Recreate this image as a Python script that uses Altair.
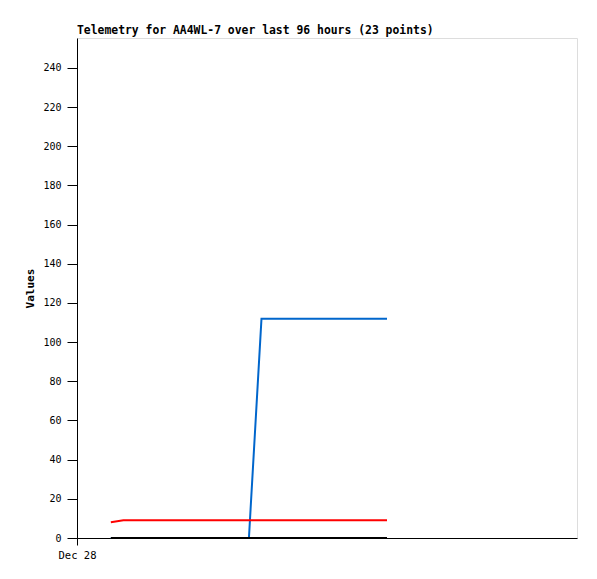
import altair as alt
import pandas as pd

hours = [6.5 + i * 2.41 for i in range(23)]
blue = [0]*12 + [112]*11
red = [8] + [9]*22
black = [0]*23

rows = []
for h, b, r, k in zip(hours, blue, red, black):
    rows.append({"h": h, "v": b, "s": "blue"})
    rows.append({"h": h, "v": r, "s": "red"})
    rows.append({"h": h, "v": k, "s": "black"})
df = pd.DataFrame(rows)

font = "DejaVu Sans Mono"

chart = alt.Chart(df).mark_line(strokeWidth=2).encode(
    x=alt.X("h:Q", scale=alt.Scale(domain=[0, 96], nice=False, zero=False),
            axis=alt.Axis(values=[0], labelExpr="'Dec 28'", title=None, grid=False,
                          tickSize=7, tickColor="black", domainColor="black",
                          labelFlush=False, labelAlign="center",
                          labelFont=font, labelFontSize=10.5, labelColor="black", labelPadding=5)),
    y=alt.Y("v:Q", scale=alt.Scale(domain=[0, 255.3], nice=False),
            axis=alt.Axis(values=list(range(0, 241, 20)), title="Values", grid=False,
                          tickSize=10, tickColor="black", domainColor="black",
                          labelFont=font, labelFontSize=10, labelColor="black", labelPadding=6,
                          titleFont=font, titleFontSize=11, titleFontWeight="bold",
                          titleColor="black", titlePadding=7)),
    color=alt.Color("s:N", scale=alt.Scale(domain=["blue", "red", "black"],
                                           range=["#0066CC", "#FF0000", "#000000"]), legend=None),
    detail="s:N",
).properties(
    width=500, height=500,
    title=alt.TitleParams("Telemetry for AA4WL-7 over last 96 hours (23 points)",
                          anchor="start", frame="group", font=font, fontSize=11.4,
                          fontWeight="bold", color="black", offset=2),
    autosize=alt.AutoSizeParams(type="none"),
    padding={"left": 69, "top": 30, "right": 12, "bottom": 33},
).configure_view(stroke="black", strokeWidth=1).configure(background="white")

chart.save("out.html", embed_options={"renderer": "svg", "actions": False})
